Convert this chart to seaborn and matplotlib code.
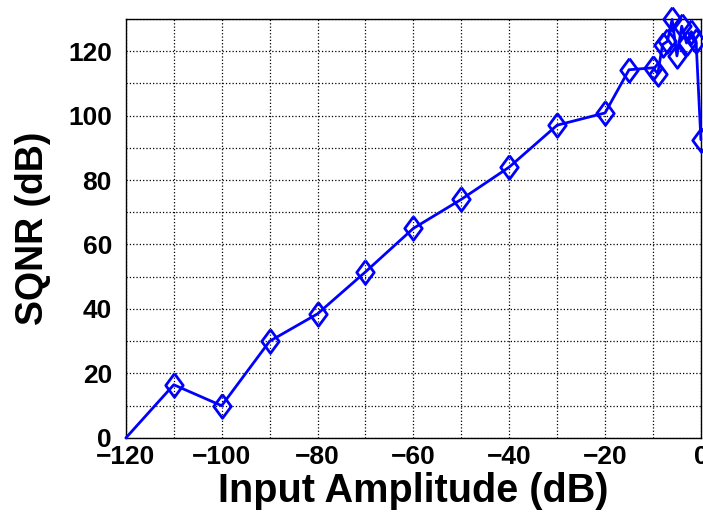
import numpy as np
import pandas as pd
import matplotlib
matplotlib.use("Agg")
import matplotlib.pyplot as plt
from matplotlib.ticker import MultipleLocator
import seaborn as sns

amplitude = [-120, -110, -100, -90, -80, -70, -60, -50, -40, -30, -20, -15,
             -10, -9, -8, -7, -6, -5, -4, -3, -2, -1, 0]
sqnr = [0, 16.5, 10, 30, 38.5, 51.5, 65, 74, 84, 97, 100.8, 114.2,
        114.8, 113, 122, 123, 129.8, 118.5, 127.7, 122.5, 126, 123, 92.5]

df = pd.DataFrame({"amp": amplitude, "sqnr": sqnr})

sns.set_style("white")
plt.rcParams['font.family'] = ['Liberation Sans', 'DejaVu Sans']
plt.rcParams['font.weight'] = 'bold'

fig = plt.figure(figsize=(7.03, 5.22), dpi=100)
ax = fig.add_axes([0.179, 0.161, 0.818, 0.803])

# slightly tall open diamond, like the MATLAB one
diamond = [(0, 1), (0.74, 0), (0, -1), (-0.74, 0), (0, 1)]
sns.lineplot(data=df, x="amp", y="sqnr", sort=False, ax=ax, color="#0000ff",
             linewidth=2.0, marker=diamond, markersize=17,
             markerfacecolor="none", markeredgecolor="#0000ff",
             markeredgewidth=2.0, markevery=list(range(1, len(df))),
             clip_on=False, zorder=5)

ax.set_xlim(-120, 0)
ax.set_ylim(0, 130)
ax.xaxis.set_major_locator(MultipleLocator(20))
ax.xaxis.set_minor_locator(MultipleLocator(10))
ax.yaxis.set_major_locator(MultipleLocator(20))
ax.yaxis.set_minor_locator(MultipleLocator(10))
ax.grid(which="both", linestyle=":", color="black", linewidth=0.9)
ax.tick_params(which="both", direction="in", length=5, width=0.8,
               labelsize=19, colors="black", labelcolor="black")
ax.tick_params(axis="x", pad=5)
ax.tick_params(axis="y", pad=10)
for s in ax.spines.values():
    s.set_color("black")
    s.set_linewidth(1.0)

ax.set_xlabel("Input Amplitude (dB)", fontsize=28.5, fontweight="bold",
              color="black", labelpad=2)
ax.set_ylabel("SQNR (dB)", fontsize=27, fontweight="bold",
              color="black", labelpad=12)

fig.savefig("out.png", dpi=100)
